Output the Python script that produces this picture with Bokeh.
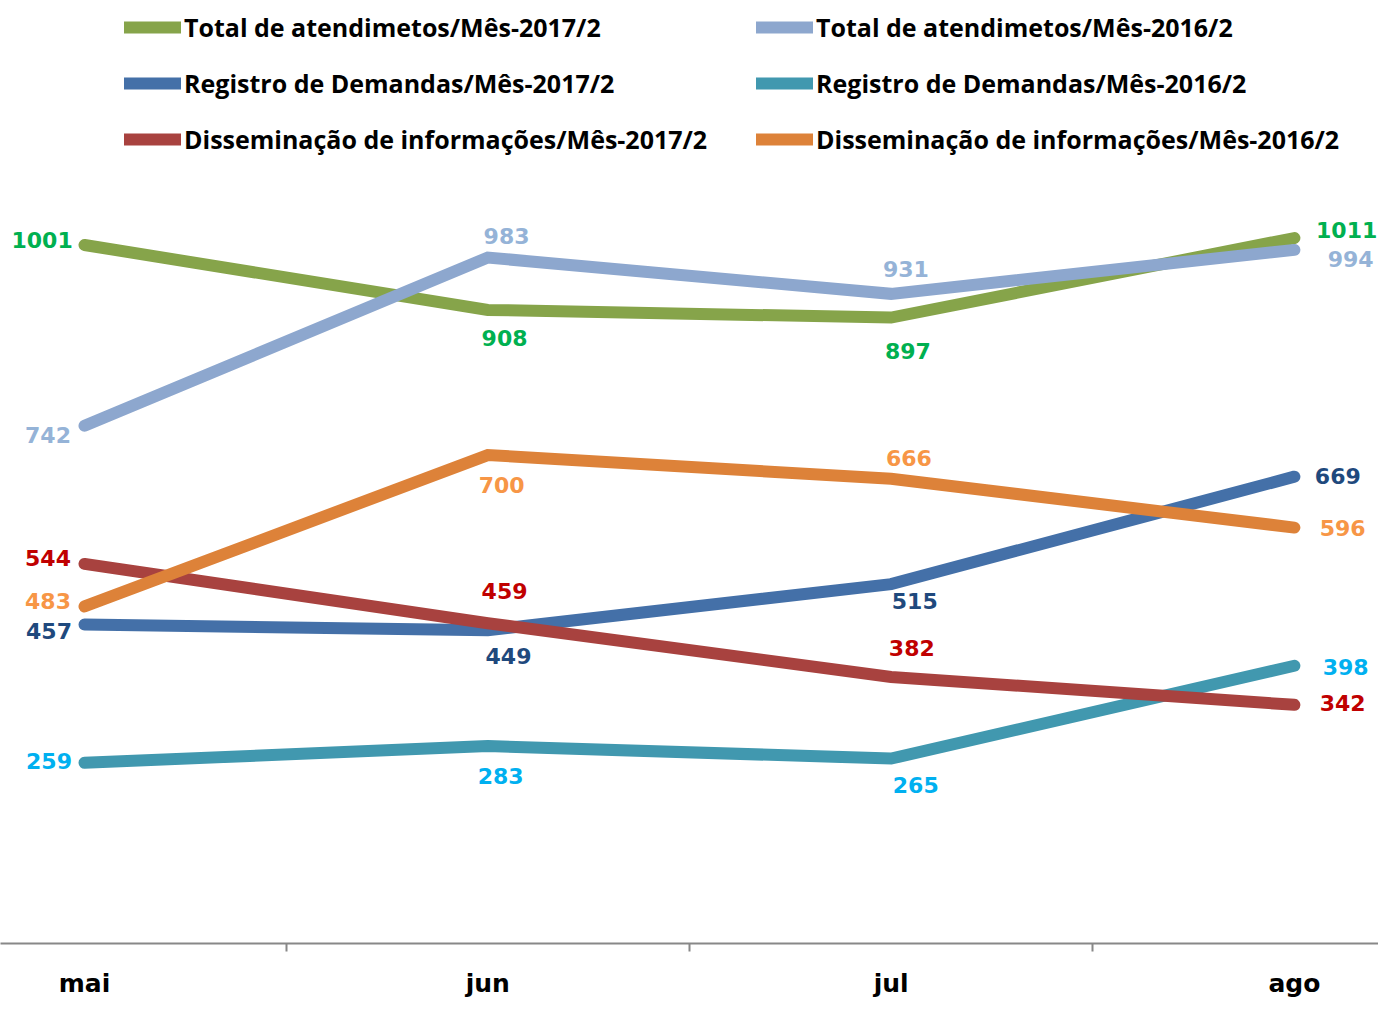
from bokeh.plotting import figure
from bokeh.models import FixedTicker, Legend, LegendItem, ColumnDataSource, Range1d
from bokeh.core.properties import value
from bokeh.embed import file_html
from bokeh.resources import INLINE

# ---- data ----
months = ["mai", "jun", "jul", "ago"]
total_2017 = [1001, 908, 897, 1011]
total_2016 = [742, 983, 931, 994]
registro_2017 = [457, 449, 515, 669]
registro_2016 = [259, 283, 265, 398]
dissem_2017 = [544, 459, 382, 342]
dissem_2016 = [483, 700, 666, 596]

names = [
    "Total de atendimetos/Mês-2017/2",
    "Total de atendimetos/Mês-2016/2",
    "Registro de Demandas/Mês-2017/2",
    "Registro de Demandas/Mês-2016/2",
    "Disseminação de informações/Mês-2017/2",
    "Disseminação de informações/Mês-2016/2",
]
series = [total_2017, total_2016, registro_2017, registro_2016, dissem_2017, dissem_2016]

# ---- styles ----
line_colors = ["#86A44A", "#8DA7CE", "#4470A8", "#4198AF", "#A8423F", "#DD8239"]
label_colors = ["#00B050", "#95B3D7", "#1F497D", "#00B0F0", "#C00000", "#F79646"]
# label placement offsets in pixels (dx, dy) relative to each point
label_dx = [
    [-43, 17, 17, 53],
    [-37, 19, 15, 57],
    [-36, 21, 24, 44],
    [-36, 13, 25, 52],
    [-37, 17, 21, 49],
    [-37, 14, 18, 49],
]
label_dy = [
    [-5, 28, 34, -8],
    [9, -22, -25, 9],
    [6, 26, 17, -1],
    [-2, 30, 27, 1],
    [-6, -33, -29, -2],
    [-6, 30, -21, 0],
]
S = 0.986  # layout scale

xs = list(range(len(months)))
FRAME_W, FRAME_H = 1378, 943
X0, STEP = 84.0, 403.3
px_per_unit = 0.6978

p = figure(
    frame_width=FRAME_W, frame_height=FRAME_H,
    output_backend="svg", toolbar_location=None,
    y_axis_location=None,
    x_range=Range1d(-X0 / STEP, (FRAME_W - X0) / STEP),
    y_range=Range1d(0, FRAME_H / px_per_unit),
    min_border_left=0, min_border_right=0, min_border_top=0, min_border_bottom=0,
)
p.outline_line_color = None
p.grid.visible = False
p.background_fill_color = "white"

renderers = []
for vals, col in zip(series, line_colors):
    r = p.line(xs, vals, line_color=col, line_width=12, line_cap="round", line_join="miter")
    renderers.append(r)

for i, vals in enumerate(series):
    src = ColumnDataSource(dict(
        x=xs, y=vals, t=[str(v) for v in vals],
        dx=[d * S for d in label_dx[i]], dy=[d * S for d in label_dy[i]],
    ))
    p.text(x="x", y="y", text="t", x_offset="dx", y_offset="dy", source=src,
           text_align="center", text_baseline="middle",
           text_font=value("DejaVu Sans"), text_font_style="bold",
           text_font_size="22px", text_color=label_colors[i])

# x axis
ax = p.xaxis[0]
ax.ticker = FixedTicker(ticks=xs, minor_ticks=[x + 0.5 for x in xs[:-1]])
ax.major_label_overrides = {i: m for i, m in enumerate(months)}
ax.axis_line_color = "#888888"
ax.axis_line_width = 2
ax.major_tick_line_color = None
ax.major_tick_out = 8
ax.major_tick_in = 0
ax.minor_tick_line_color = "#888888"
ax.minor_tick_line_width = 2
ax.minor_tick_out = 8
ax.minor_tick_in = 0
ax.major_label_standoff = 17
ax.major_label_text_font = "DejaVu Sans"
ax.major_label_text_font_style = "bold"
ax.major_label_text_font_size = "25px"
ax.major_label_text_color = "black"

LEG_H = 3 * 36 + 2 * 20
LEG_TOP = 9

def make_legend(idx, x0):
    leg = Legend(
        items=[LegendItem(label=names[i], renderers=[renderers[i]]) for i in idx],
        location=(x0, FRAME_H - LEG_TOP - LEG_H),
        orientation="vertical",
        glyph_width=57, glyph_height=36, label_height=36, spacing=20,
        label_standoff=3, padding=0, margin=0,
        border_line_color=None, background_fill_alpha=0,
        label_text_font="Open Sans", label_text_font_style="bold",
        label_text_font_size="25px", label_text_color="black",
    )
    p.add_layout(leg, "center")

make_legend([0, 2, 4], 124)
make_legend([1, 3, 5], 756)

open("out.html", "w").write(file_html(p, INLINE))
